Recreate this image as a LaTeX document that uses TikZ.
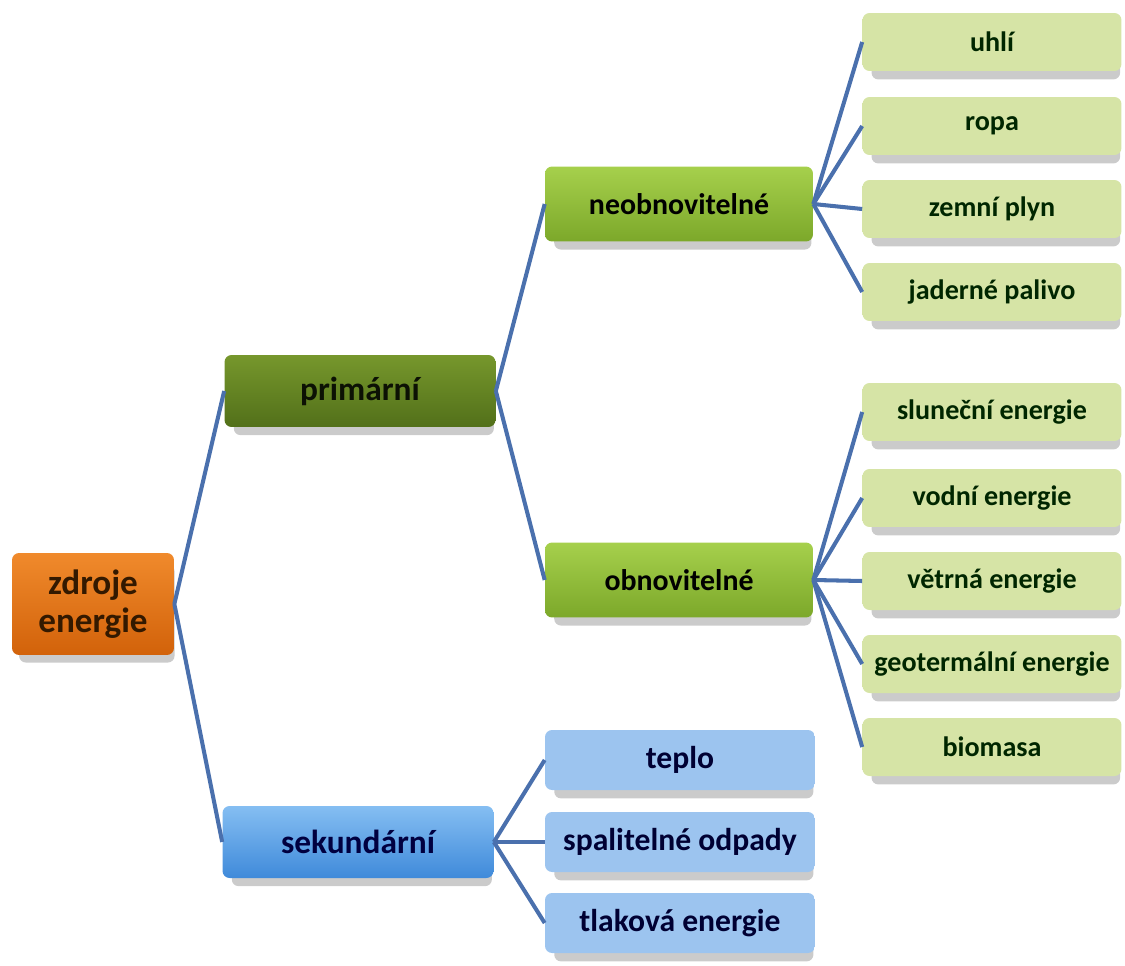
\documentclass[tikz,border=0pt]{standalone}
\usepackage{fontspec}
\setmainfont{Carlito}
\usetikzlibrary{shadows}

\definecolor{linkblue}{HTML}{4A70AD}
\definecolor{orangetop}{HTML}{F08A2C}
\definecolor{orangemid}{HTML}{E7720F}
\definecolor{orangebot}{HTML}{D2620A}
\definecolor{olivetop}{HTML}{76972C}
\definecolor{olivemid}{HTML}{648722}
\definecolor{olivebot}{HTML}{52701A}
\definecolor{limetop}{HTML}{A6D04C}
\definecolor{limemid}{HTML}{90BE38}
\definecolor{limebot}{HTML}{7CA82A}
\definecolor{leafedge}{HTML}{D6E4A6}
\definecolor{leafmid}{HTML}{F5F9E8}
\definecolor{skytop}{HTML}{85BEF2}
\definecolor{skymid}{HTML}{5CA5EA}
\definecolor{skybot}{HTML}{3F8ADA}
\definecolor{paleedge}{HTML}{9CC4EF}
\definecolor{palemid}{HTML}{CDE1F8}

\begin{document}
\begin{tikzpicture}[
            x=0.02cm, y=-0.02cm,
            box/.style={
                    rectangle,
                    rounded corners=4pt,
                    align=center,
                    inner sep=2pt,
                    drop shadow={shadow xshift=0.08cm, shadow yshift=-0.2cm,
                            shadow scale=0.96, fill=black!45, opacity=0.45}
                },
            root/.style={
                    box,
                    minimum width=3.24cm,
                    minimum height=2.04cm,
                    top color=orangetop, middle color=orangemid,
                    bottom color=orangebot,
                    text=black!80!orange,
                    font=\fontsize{20}{22}\selectfont\bfseries
                },
            branch/.style={
                    box,
                    minimum width=5.42cm,
                    minimum height=1.44cm,
                    font=\fontsize{19}{22}\selectfont\bfseries
                },
            primary/.style={branch,
                    top color=olivetop, middle color=olivemid,
                    bottom color=olivebot, text=black!85!olivebot},
            secondary/.style={branch,
                    top color=skytop, middle color=skymid,
                    bottom color=skybot, text=black!75!blue},
            group/.style={
                    box,
                    minimum width=5.36cm,
                    minimum height=1.5cm,
                    top color=limetop, middle color=limemid,
                    bottom color=limebot,
                    font=\fontsize{17}{20}\selectfont\bfseries
                },
            leaf/.style={
                    box,
                    minimum width=5.18cm,
                    minimum height=1.16cm,
                    top color=leafedge, middle color=leafmid,
                    bottom color=leafedge,
                    text=black!85!green,
                    font=\fontsize{16}{18}\selectfont\bfseries
                },
            paleleaf/.style={
                    box,
                    minimum width=5.4cm,
                    minimum height=1.2cm,
                    top color=paleedge, middle color=palemid,
                    bottom color=paleedge,
                    text=black!80!blue,
                    font=\fontsize{18}{20}\selectfont\bfseries
                },
            link/.style={
                    color=linkblue,
                    line width=2.3pt
                }
            ]

            \useasboundingbox (0,0) rectangle (1125,966);

            % Kořen
            \node[root] (zdroje) at (93,604) {zdroje\\energie};

            % Primární a sekundární
            \node[primary] (primarni) at (360,391) {primární};
            \node[secondary] (sekundarni) at (358,842) {sekundární};

            % Neobnovitelné / obnovitelné
            \node[group] (neobnov) at (679,204) {neobnovitelné};
            \node[group] (obnov) at (679,580) {obnovitelné};

            % Neobnovitelné zdroje
            \node[leaf] (uhli) at (992,42) {uhlí};
            \node[leaf] (ropa) at (992,126) {ropa};
            \node[leaf] (plyn) at (992,209) {zemní plyn};
            \node[leaf] (palivo) at (992,292) {jaderné palivo};

            % Obnovitelné zdroje
            \node[leaf] (slunce) at (992,412) {sluneční energie};
            \node[leaf] (voda) at (992,498) {vodní energie};
            \node[leaf] (vitr) at (992,581) {větrná energie};
            \node[leaf] (geo) at (992,664) {geotermální energie};
            \node[leaf] (bio) at (992,747) {biomasa};

            % Sekundární zdroje
            \node[paleleaf] (teplo) at (680,760) {teplo};
            \node[paleleaf] (odpady) at (680,842) {spalitelné odpady};
            \node[paleleaf] (tlak) at (680,923) {tlaková energie};

            % Spojnice
            \draw[link] (zdroje.east) -- (primarni.west);
            \draw[link] (zdroje.east) -- (sekundarni.west);
            \draw[link] (primarni.east) -- (neobnov.west);
            \draw[link] (primarni.east) -- (obnov.west);
            \foreach \n in {uhli,ropa,plyn,palivo}
                \draw[link] (neobnov.east) -- (\n.west);
            \foreach \n in {slunce,voda,vitr,geo,bio}
                \draw[link] (obnov.east) -- (\n.west);
            \foreach \n in {teplo,odpady,tlak}
                \draw[link] (sekundarni.east) -- (\n.west);

        \end{tikzpicture}
\end{document}
